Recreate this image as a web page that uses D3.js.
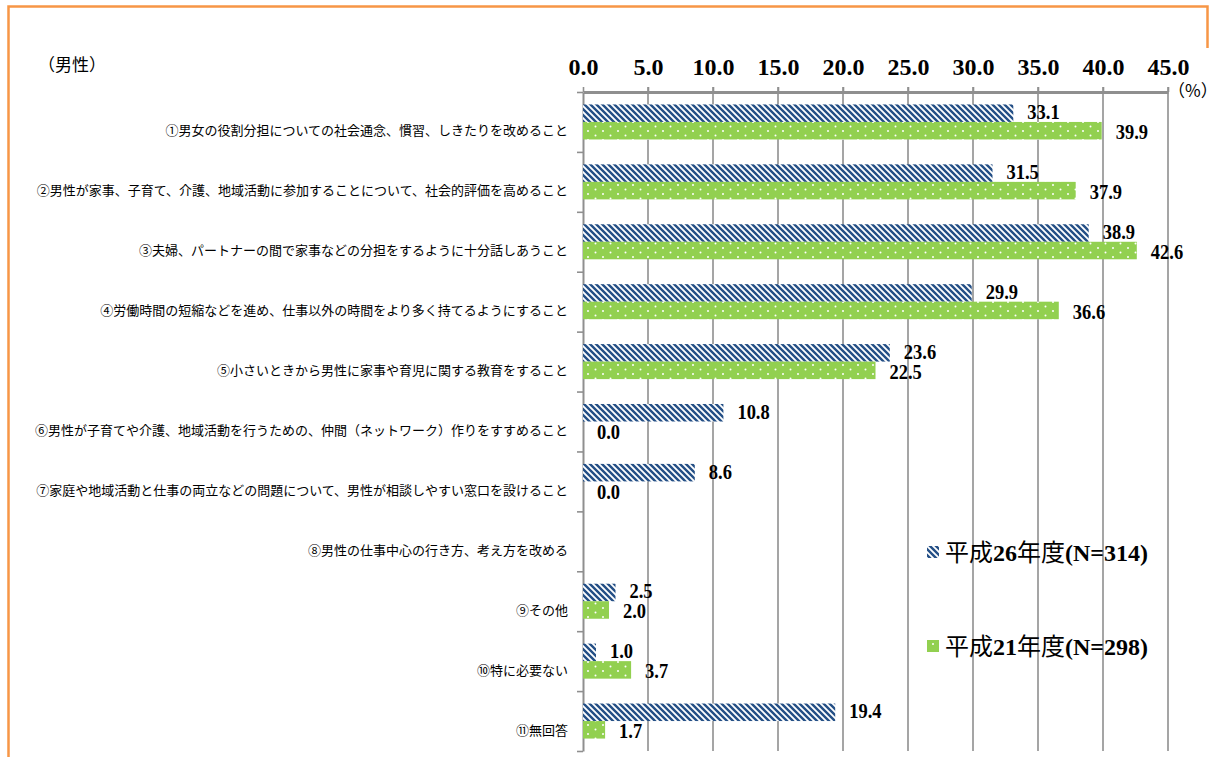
<!DOCTYPE html>
<html>
<head>
<meta charset="utf-8">
<script src="https://cdn.jsdelivr.net/npm/d3@7"></script>
<style>
  html, body { margin: 0; padding: 0; background: #fff; }
  svg { display: block; }
</style>
</head>
<body>
<div id="chart"></div>
<script>
// data
const categories = [
  "①男女の役割分担についての社会通念、慣習、しきたりを改めること",
  "②男性が家事、子育て、介護、地域活動に参加することについて、社会的評価を高めること",
  "③夫婦、パートナーの間で家事などの分担をするように十分話しあうこと",
  "④労働時間の短縮などを進め、仕事以外の時間をより多く持てるようにすること",
  "⑤小さいときから男性に家事や育児に関する教育をすること",
  "⑥男性が子育てや介護、地域活動を行うための、仲間（ネットワーク）作りをすすめること",
  "⑦家庭や地域活動と仕事の両立などの問題について、男性が相談しやすい窓口を設けること",
  "⑧男性の仕事中心の行き方、考え方を改める",
  "⑨その他",
  "⑩特に必要ない",
  "⑪無回答"
]
const h26 = [33.1, 31.5, 38.9, 29.9, 23.6, 10.8, 8.6, null, 2.5, 1.0, 19.4]
const h21 = [39.9, 37.9, 42.6, 36.6, 22.5, 0.0, 0.0, null, 2.0, 3.7, 1.7]
const seriesNames = ["h26", "h21"]
const legendParts = [
  [["平成", "k"], ["26", "n"], ["年度", "k"], ["(N=314)", "n"]],
  [["平成", "k"], ["21", "n"], ["年度", "k"], ["(N=298)", "n"]]
]
const xTicks = [0, 5, 10, 15, 20, 25, 30, 35, 40, 45]

const width = 1219, height = 757
const plotTop = 92, plotBottom = 751, plotLeft = 583, plotRight = 1168
const serif = "'Liberation Serif', 'Times New Roman', serif"
const gothic = "'Noto Sans CJK JP', 'Noto Sans', sans-serif"
const gridColor = "#8f8f8f"

const svg = d3.select("#chart").append("svg")
  .attr("width", width)
  .attr("height", height)
  .attr("viewBox", [0, 0, width, height])

// patterns
const defs = svg.append("defs")
const stripe = defs.append("pattern")
  .attr("id", "stripe")
  .attr("width", 6).attr("height", 6)
  .attr("patternUnits", "userSpaceOnUse")
stripe.append("rect").attr("width", 6).attr("height", 6).attr("fill", "#fff")
stripe.append("path")
  .attr("d", "M-1,5 l2,2 M0,0 l6,6 M5,-1 l2,2")
  .attr("stroke", "#244f86")
  .attr("stroke-width", 2.4)
const dots = defs.append("pattern")
  .attr("id", "dots")
  .attr("width", 15).attr("height", 9)
  .attr("patternUnits", "userSpaceOnUse")
  .attr("y", 3)
dots.append("rect").attr("width", 15).attr("height", 9).attr("fill", "#92d050")
dots.append("circle").attr("cx", 3).attr("cy", 2).attr("r", 1).attr("fill", "#fff")
dots.append("circle").attr("cx", 10.5).attr("cy", 6.5).attr("r", 1).attr("fill", "#fff")
const fills = { h26: "url(#stripe)", h21: "url(#dots)" }

// orange frame
svg.append("path")
  .attr("d", `M8.5,${height} V6.5 H1207.5 V48`)
  .attr("fill", "none")
  .attr("stroke", "#f79646")
  .attr("stroke-width", 2.5)

// scales
const x = d3.scaleLinear().domain([0, 45]).range([plotLeft, plotRight])
const y = d3.scaleBand().domain(categories).range([plotTop, plotBottom]).padding(0)
const yInner = d3.scaleBand().domain(seriesNames)
  .range([0, y.bandwidth()])
  .paddingInner(0)
  .paddingOuter(0.71)
const yEdge = d3.scaleLinear().domain([0, categories.length]).range([plotTop, plotBottom])

// gridlines
svg.append("g")
  .selectAll("line")
  .data(xTicks.slice(1))
  .join("line")
  .attr("x1", d => x(d)).attr("x2", d => x(d))
  .attr("y1", plotTop - 5).attr("y2", plotBottom)
  .attr("stroke", gridColor)
  .attr("stroke-width", 1.6)

// top axis
const xAxis = svg.append("g")
  .attr("transform", `translate(0,${plotTop})`)
  .call(d3.axisTop(x).tickValues(xTicks).tickFormat(d3.format(".1f")).tickSize(5).tickSizeOuter(0))
xAxis.select(".domain").attr("stroke", gridColor).attr("stroke-width", 3)
xAxis.selectAll(".tick line").attr("stroke", gridColor).attr("stroke-width", 1.6)
xAxis.selectAll(".tick text")
  .attr("y", -17)
  .attr("font-family", serif)
  .attr("font-weight", "bold")
  .attr("font-size", 24)
  .attr("fill", "#000")

// left axis
const yAxis = svg.append("g")
  .attr("transform", `translate(${plotLeft},0)`)
  .call(d3.axisLeft(yEdge).tickValues(d3.range(0, categories.length + 1)).tickFormat("").tickSize(6).tickSizeOuter(0))
yAxis.select(".domain").attr("stroke", gridColor).attr("stroke-width", 2)
yAxis.selectAll(".tick line").attr("stroke", gridColor).attr("stroke-width", 1.6)

// category labels
svg.append("g")
  .selectAll("text")
  .data(categories)
  .join("text")
  .attr("x", 568)
  .attr("y", d => y(d) + y.bandwidth() / 2 + 8)
  .attr("text-anchor", "end")
  .attr("dominant-baseline", "central")
  .attr("font-family", gothic)
  .attr("font-size", 13)
  .attr("fill", "#000")
  .text(d => d)

// bars
const rows = []
categories.forEach((c, i) => {
  rows.push({ c, s: "h26", v: h26[i] })
  rows.push({ c, s: "h21", v: h21[i] })
})
const valid = rows.filter(d => d.v !== null)

svg.append("g")
  .selectAll("rect")
  .data(valid)
  .join("rect")
  .attr("x", x(0))
  .attr("y", d => y(d.c) + yInner(d.s))
  .attr("width", d => x(d.v) - x(0))
  .attr("height", yInner.bandwidth())
  .attr("fill", d => fills[d.s])

// value labels
svg.append("g")
  .selectAll("text")
  .data(valid)
  .join("text")
  .attr("x", d => x(d.v) + 14)
  .attr("y", d => y(d.c) + yInner(d.s) + yInner.bandwidth() / 2 + (d.s === "h26" ? 6 : 8.5))
  .attr("font-family", serif)
  .attr("font-weight", "bold")
  .attr("font-size", 21)
  .attr("fill", "#000")
  .text(d => d.v.toFixed(1))
  .each(function () {
    const w = this.getComputedTextLength()
    d3.select(this).attr("textLength", w * 0.88).attr("lengthAdjust", "spacingAndGlyphs")
  })

// corner texts
svg.append("text")
  .attr("x", 38).attr("y", 63)
  .attr("dominant-baseline", "central")
  .attr("font-family", gothic)
  .attr("font-size", 17)
  .text("（男性）")
svg.append("text")
  .attr("x", 1168).attr("y", 89)
  .attr("dominant-baseline", "central")
  .attr("font-family", gothic)
  .attr("font-size", 17)
  .text("（%）")

// legend
const legend = svg.append("g")
seriesNames.forEach((s, i) => {
  const ly = i === 0 ? 552 : 646
  legend.append("rect")
    .attr("x", 927).attr("y", ly - 6)
    .attr("width", 12).attr("height", 12)
    .attr("fill", fills[s])
  const t = legend.append("text")
    .attr("x", 945).attr("y", ly + 9)
    .attr("fill", "#000")
  legendParts[i].forEach(([str, kind]) => {
    t.append("tspan")
      .attr("font-family", kind === "k" ? gothic : serif)
      .attr("font-weight", kind === "k" ? "normal" : "bold")
      .attr("font-size", 24)
      .text(str)
  })
})
</script>
</body>
</html>
